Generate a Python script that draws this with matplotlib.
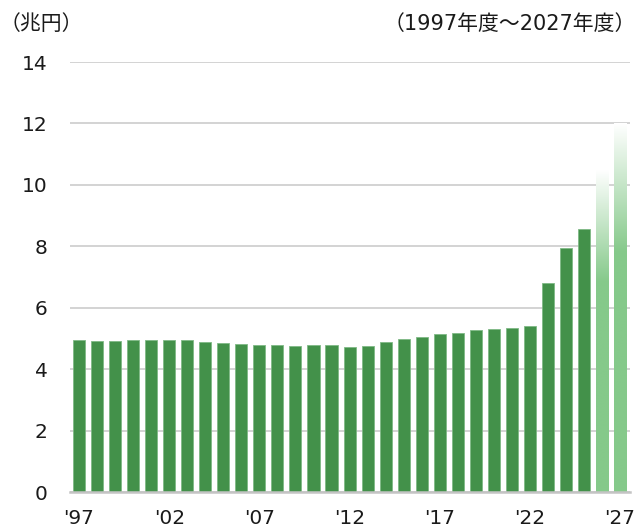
import numpy as np
import matplotlib.pyplot as plt
from matplotlib.colors import to_rgb

plt.rcParams['font.family'] = ['DejaVu Sans', 'Noto Sans CJK JP']

# 防衛関係費（兆円）1997〜2027年度
years = list(range(1997, 2028))
values = [4.94, 4.93, 4.93, 4.94, 4.96, 4.96, 4.95, 4.90, 4.86, 4.81,
          4.80, 4.78, 4.77, 4.79, 4.78, 4.71, 4.75, 4.88, 4.98, 5.05,
          5.13, 5.19, 5.26, 5.31, 5.34, 5.40, 6.82, 7.95, 8.55, 10.5, 12.0]
planned = [2026, 2027]  # グラデーション表示（計画値）
tick_years = [1997, 2002, 2007, 2012, 2017, 2022, 2027]
tick_labels = ["'97", "'02", "'07", "'12", "'17", "'22", "'27"]

dark = '#43914a'
light = '#85c98a'
width = 0.67

fig = plt.figure(figsize=(6.38, 5.31), dpi=100)
ax = fig.add_axes([0.1097, 0.0734, 0.8778, 0.8098])

x = np.arange(len(years))
for xi, yr, v in zip(x, years, values):
    if yr in planned:
        # bar with fade to white in the upper part
        n = 200
        t = np.linspace(0, 1, n)
        start = 0.65
        frac = np.clip((t - start) / (1 - start), 0, 1)
        base = np.array(to_rgb(light))
        cols = base[None, :] * (1 - frac[:, None]) + np.ones(3)[None, :] * frac[:, None]
        img = cols[:, None, :]
        ax.imshow(img, extent=(xi - width / 2, xi + width / 2, 0, v),
                  origin='lower', aspect='auto', zorder=3, interpolation='bilinear')
    else:
        ax.bar(xi, v, width=width, color=dark, edgecolor='#7fb985',
               linewidth=0.6, zorder=3)

ax.set_xlim(-0.5, 30.55)
ax.set_ylim(0, 14)
ax.set_yticks(range(0, 15, 2))
ax.set_xticks([years.index(t) for t in tick_years])
ax.set_xticklabels(tick_labels)
ax.tick_params(axis='both', length=0, labelsize=14.5, colors='#1a1a1a')
ax.tick_params(axis='y', pad=16)
ax.tick_params(axis='x', pad=12)

ax.grid(axis='y', color='#d0d0d0', linewidth=1.3, zorder=0)
for s in ['top', 'right', 'left']:
    ax.spines[s].set_visible(False)
ax.spines['bottom'].set_color('#c4c4c4')
ax.spines['bottom'].set_linewidth(1.8)
ax.spines['bottom'].set_zorder(4)

fig.text(0.0, 0.955, '（兆円）', fontsize=15, ha='left', va='center', color='#1a1a1a')
fig.text(0.997, 0.955, '（1997年度～2027年度）', fontsize=15, ha='right', va='center',
         color='#1a1a1a')

fig.savefig('out.png', dpi=100)
